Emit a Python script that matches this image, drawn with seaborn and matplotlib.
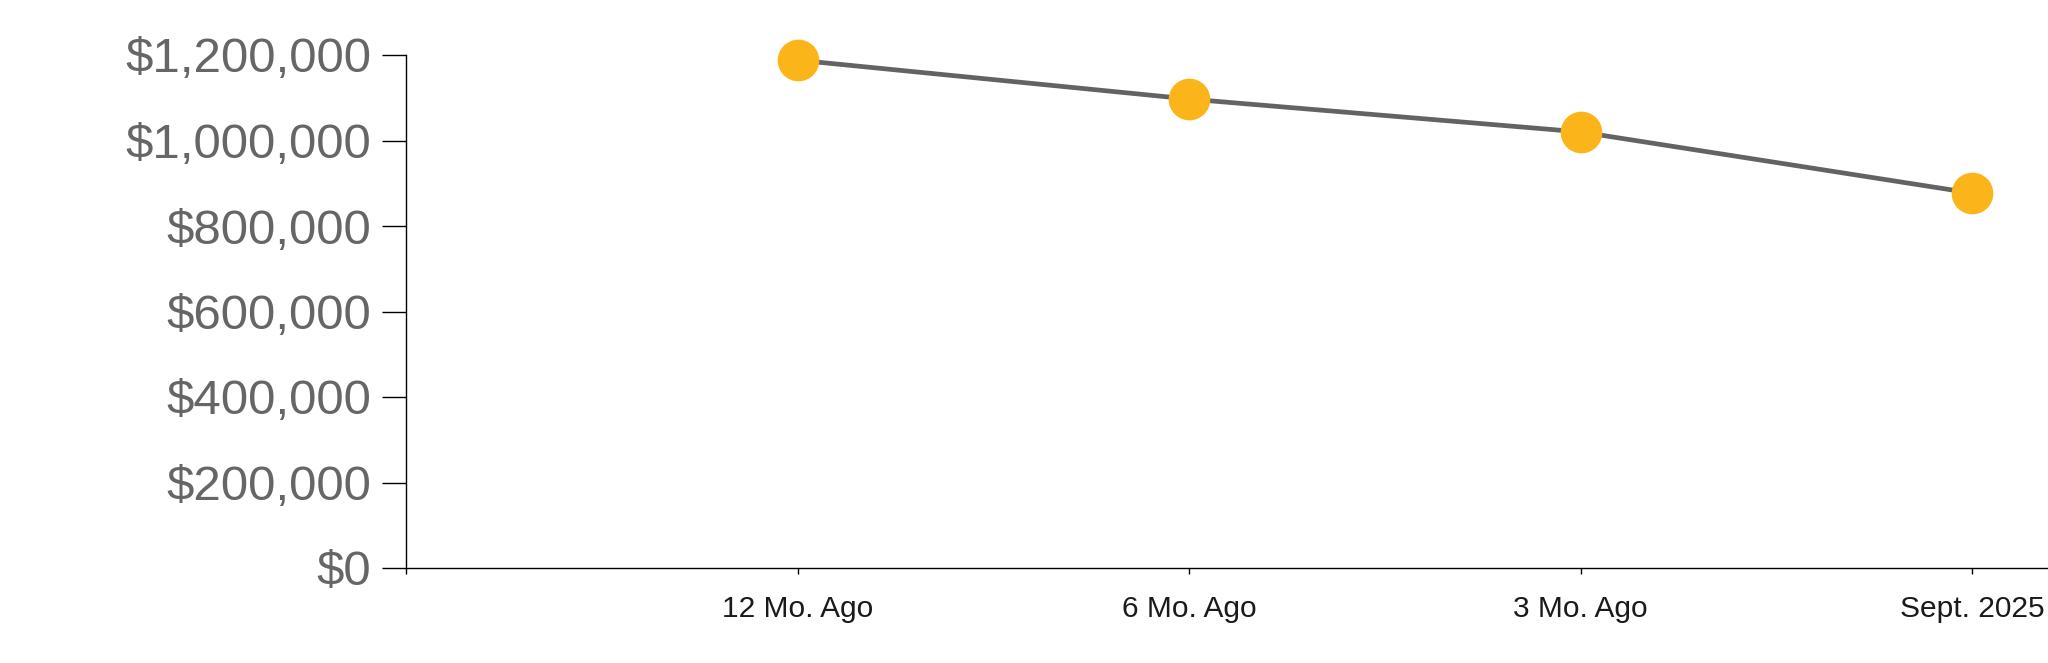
import numpy as np
import matplotlib
matplotlib.use("Agg")
import matplotlib.pyplot as plt
import seaborn as sns
import pandas as pd
from matplotlib.ticker import FuncFormatter

#---chart data
periods = ["12 Mo. Ago", "6 Mo. Ago", "3 Mo. Ago", "Sept. 2025"]
values = [1188000, 1097000, 1020000, 877000]
y_ticks = [0, 200000, 400000, 600000, 800000, 1000000, 1200000]

df = pd.DataFrame({
    'period': periods,
    'pos': np.arange(1, len(periods) + 1),
    'value': values
})

sns.set_style("white")
plt.rcParams['font.family'] = ['Liberation Sans', 'DejaVu Sans']

fig = plt.figure(figsize=(20.48, 6.63), dpi=100)
ax = fig.add_axes([406 / 2048, 1 - 568 / 663, 1 - 406 / 2048, (568 - 55) / 663])

sns.lineplot(data=df, x='pos', y='value', ax=ax, color='#636363', linewidth=3.4,
             marker='o', markersize=30, markerfacecolor='#FBB41A',
             markeredgewidth=0, zorder=3)
ax.lines[0].set_clip_on(False)

ax.set_xlim(0, (2048 - 406) / 391.5)
ax.set_ylim(0, 1200000)

ax.set_xticks([0] + list(df['pos']))
ax.set_xticklabels([''] + periods)
ax.set_yticks(y_ticks)
ax.yaxis.set_major_formatter(FuncFormatter(lambda v, p: f"${int(v):,}"))

ax.tick_params(axis='y', direction='out', length=17, width=1.0, pad=8,
               labelsize=35.5, labelcolor='#666666', color='black', left=True)
ax.tick_params(axis='x', direction='out', length=4.3, width=1.0, pad=15,
               labelsize=21.5, labelcolor='#1a1a1a', color='black', bottom=True)

sns.despine(ax=ax, top=True, right=True)
for s in ['left', 'bottom']:
    ax.spines[s].set_color('black')
    ax.spines[s].set_linewidth(1.0)

ax.set_xlabel('')
ax.set_ylabel('')
ax.grid(False)

fig.savefig('out.png', dpi=100, facecolor='white')
